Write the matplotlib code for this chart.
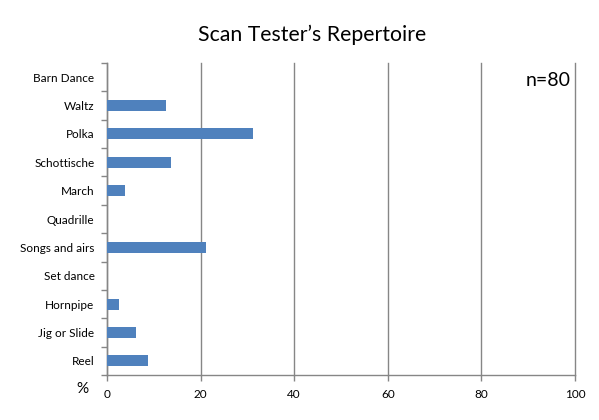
import matplotlib.pyplot as plt
from matplotlib.ticker import FixedLocator, NullFormatter

categories = ["Reel", "Jig or Slide", "Hornpipe", "Set dance", "Songs and airs",
              "Quadrille", "March", "Schottische", "Polka", "Waltz", "Barn Dance"]
percent = [8.75, 6.25, 2.5, 0, 21.25, 0, 3.75, 13.75, 31.25, 12.5, 0]
x_ticks = [0, 20, 40, 60, 80, 100]

plt.rcParams["font.family"] = ["Lato", "DejaVu Sans"]

fig = plt.figure(figsize=(5.99, 4.2), dpi=100)
ax = fig.add_axes([107 / 599, 45 / 420, 468 / 599, 312 / 420])

y = list(range(len(categories)))
ax.barh(y, percent, height=0.39, color="#4f81bd", zorder=3)

ax.set_xlim(0, 100)
ax.set_ylim(-0.5, len(categories) - 0.5)
ax.set_xticks(x_ticks)
ax.set_xticklabels([str(t) for t in x_ticks], fontsize=8.5)
ax.set_yticks(y)
ax.set_yticklabels(categories, fontsize=8.5)
ax.yaxis.set_minor_locator(FixedLocator([i - 0.5 for i in range(len(categories) + 1)]))
ax.yaxis.set_minor_formatter(NullFormatter())
ax.tick_params(axis="y", which="major", length=0, pad=9)
ax.tick_params(axis="y", which="minor", length=4, color="#868686", width=1)
ax.tick_params(axis="x", length=4, color="#868686", width=1, pad=6)
ax.grid(axis="x", color="#868686", linewidth=1, zorder=0)
for line in ax.get_xgridlines():
    line.set_clip_on(False)

for side in ["top", "right"]:
    ax.spines[side].set_visible(False)
for side in ["left", "bottom"]:
    ax.spines[side].set_color("#868686")
    ax.spines[side].set_linewidth(1)

fig.text(312 / 599, 1 - 35 / 420, "Scan Tester\u2019s Repertoire", ha="center", va="center", fontsize=15.3)
fig.text(548 / 599, 1 - 80 / 420, "n=80", ha="center", va="center", fontsize=14)
fig.text(82 / 599, 1 - 389 / 420, "%", ha="center", va="center", fontsize=11)

fig.savefig("out.png", dpi=100)
